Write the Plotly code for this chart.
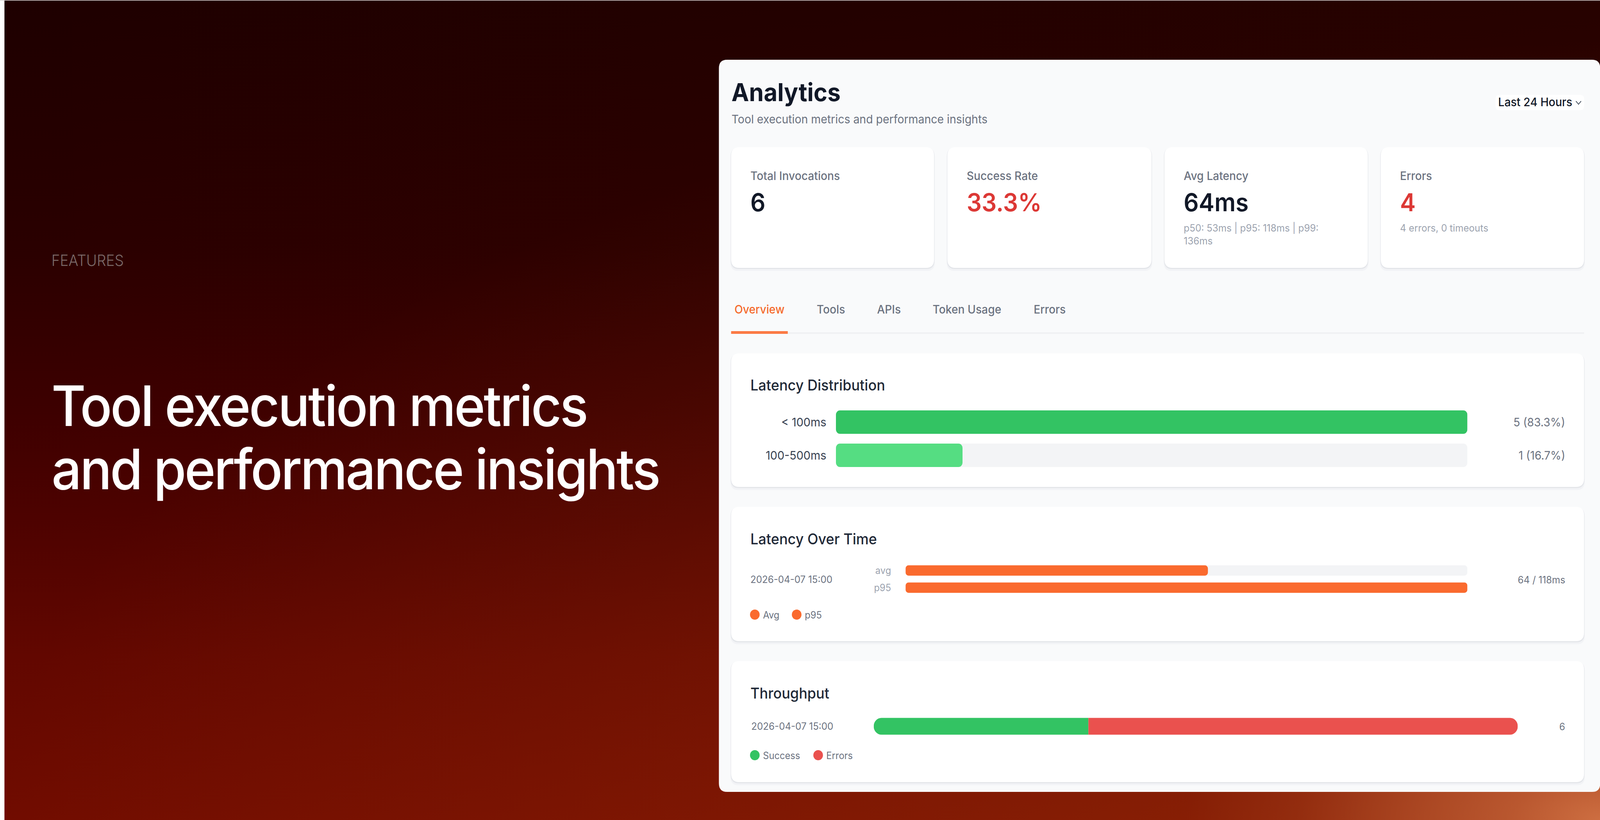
import plotly.graph_objects as go

W, H = 4320, 2100
VIEW_W = 4096  # the browser viewport is capped at this width; the whole figure is fitted to it

# ---------- chart data ----------
kpi_labels = ["Total Invocations", "Success Rate", "Avg Latency", "Errors"]
kpi_values = ["6", "33.3%", "64ms", "4"]
tab_labels = ["Overview", "Tools", "APIs", "Token Usage", "Errors"]
headline = ["Tool execution metrics", "and performance insights"]

dist_categories = ["< 100ms", "100-500ms"]
dist_percent = [83.3, 16.7]
dist_labels = ["5 (83.3%)", "1 (16.7%)"]

latency_categories = ["avg", "p95"]
latency_values = [63.5, 118]
latency_time = "2026-04-07 15:00"

throughput_categories = ["2026-04-07 15:00"]
throughput_success = [2]
throughput_errors = [4]

# ---------- palette ----------
INK = "#111827"; GREY = "#6b7280"; PALE = "#9ca3af"; RED_TXT = "#dc3835"
GREEN = "#33c363"; LIGHT_GREEN = "#55dd82"; ORANGE = "#fa6a2e"; RED = "#ea514e"; TRACK = "#f3f4f6"
FONT = "Inter"
HEAD_SPACING = -4.6

fig = go.Figure()
shapes, notes = [], []


def rrect(x0, y0, x1, y1, r):
    return (f"M{x0+r},{y0} L{x1-r},{y0} Q{x1},{y0} {x1},{y0+r} L{x1},{y1-r} Q{x1},{y1} {x1-r},{y1} "
            f"L{x0+r},{y1} Q{x0},{y1} {x0},{y1-r} L{x0},{y0+r} Q{x0},{y0} {x0+r},{y0} Z")


def box(x0, y0, x1, y1, r, fill):
    shapes.append(dict(type="path", path=rrect(x0, y0, x1, y1, r), fillcolor=fill, line_width=0,
                       xref="x2", yref="y2", layer="below"))


def card(x0, y0, x1, y1, r=22):
    box(x0 - 2, y0 + 2, x1 + 2, y1 + 8, r, "#f2f3f6")
    box(x0 - 1, y0 + 1, x1 + 1, y1 + 3, r, "#e4e6ea")
    box(x0, y0, x1, y1, r, "#ffffff")


def text(x, base, s, size, color, weight=400, anchor="left", family=FONT):
    notes.append(dict(x=x, y=base - 0.364 * size, text=s, xref="x2", yref="y2", showarrow=False,
                      xanchor=anchor, yanchor="middle", borderpad=0, borderwidth=0,
                      font=dict(family=family, size=size, color=color, weight=weight)))


# ---------- background gradient (native fill gradients) ----------
bg = dict(mode="none", fill="toself", hoverinfo="skip", showlegend=False, xaxis="x", yaxis="y")
fig.add_trace(go.Scatter(x=[0, W, W, 0, 0], y=[0, 0, H, H, 0], **bg,
    fillgradient=dict(type="vertical", start=0, stop=H, colorscale=[
        [0, "#1e0000"], [0.3, "#2a0000"], [0.5, "#3d0000"], [0.63, "#4d0200"],
        [0.8, "#620700"], [1, "#710c00"]])))
fig.add_trace(go.Scatter(x=[0, W, W, 0, 0], y=[0, 0, H, H, 0], **bg,
    fillgradient=dict(type="horizontal", start=0, stop=W, colorscale=[
        [0, "rgba(200,40,0,0)"], [1, "rgba(200,40,0,0.05)"]])))
fig.add_trace(go.Scatter(x=[0, 2 * W, 2 * W, 0, 0], y=[H - 2000, H - 2000, H + 2000, H + 2000, H - 2000], **bg,
    fillgradient=dict(type="radial", colorscale=[[0, "rgba(200,90,20,0.3)"], [1, "rgba(200,90,20,0)"]])))
R = 1120
fig.add_trace(go.Scatter(x=[W - R, W + R, W + R, W - R, W - R],
                         y=[H - 560, H - 560, H + 560, H + 560, H - 560], **bg,
    fillgradient=dict(type="radial", colorscale=[
        [0, "rgba(205,110,65,1)"], [0.21, "rgba(205,110,65,0.7)"], [0.46, "rgba(205,110,65,0.46)"],
        [0.73, "rgba(205,110,65,0.16)"], [1, "rgba(205,110,65,0)"]])))

# ---------- page frame ----------
shapes.append(dict(type="rect", x0=0, x1=12, y0=0, y1=H, fillcolor="#ffffff", line_width=0, xref="x2", yref="y2", layer="below"))
shapes.append(dict(type="rect", x0=0, x1=W, y0=0, y1=1.5, fillcolor="#d8d4d4", line_width=0, xref="x2", yref="y2", layer="below"))

# ---------- left side ----------
text(139, 681, "FEATURES", 39, "#7b6a69", 300)
for line, b in zip(headline, [1091, 1253]):
    # tighter tracking pulls the text towards the centre of its box, so start further left
    text(139 + len(line) * HEAD_SPACING / 2, b, line, 143, "#ffffff", 500)

# ---------- panel ----------
box(1941, 153, W + 0.5, 2028, 22, "#f9fafb")
text(1975, 259, "Analytics", 63.6, INK, 700)
text(1975, 316, "Tool execution metrics and performance insights", 30, GREY)
box(4038, 243, 4277, 282, 10, "#ffffff")
text(4045, 272, "Last 24 Hours", 30, INK, 500)
shapes.append(dict(type="path", path="M4255,259 L4262,267 L4269,259", line=dict(color="#4b5563", width=2), xref="x2", yref="y2", layer="below"))

kpi_x = [1974, 2558, 3144, 3728]
kpi_r = [2522, 3109, 3693, 4277]
kpi_col = [INK, RED_TXT, INK, RED_TXT]
for x0, x1, lab, val, col in zip(kpi_x, kpi_r, kpi_labels, kpi_values, kpi_col):
    card(x0, 377, x1, 686)
    text(x0 + 52, 461, lab, 29.8, GREY, 500)
    text(x0 + 52, 541, val, 63.6, col, 600)
text(3196, 593, "p50: 53ms | p95: 118ms | p99:", 25.6, PALE)
text(3196, 626, "136ms", 25.6, PALE)
text(3780, 593, "4 errors, 0 timeouts", 25.6, PALE)

for x, lab, col in zip([1983, 2205, 2368, 2518, 2791], tab_labels, ["#f56a2c", GREY, GREY, GREY, GREY]):
    text(x, 803, lab, 29.8, col, 500)
shapes.append(dict(type="rect", x0=1974, x1=4277, y0=851, y1=855, fillcolor="#f0f1f3", line_width=0, xref="x2", yref="y2", layer="below"))
shapes.append(dict(type="rect", x0=1974, x1=2127, y0=848, y1=855, fillcolor="#fb7a45", line_width=0, xref="x2", yref="y2", layer="below"))

# cards holding the charts
card(1974, 905, 4277, 1247)
card(1974, 1298, 4277, 1642)
card(1974, 1693, 4277, 2003)
text(2026, 1000, "Latency Distribution", 38, "#1f2937", 500)
text(2026, 1394, "Latency Over Time", 38, "#1f2937", 500)
text(2026, 1789, "Throughput", 38, "#1f2937", 500)


# ---------- helpers for real bars ----------
def axes(n, x0, x1, y0, y1, xrange, cats, tick_size, tick_color, standoff):
    fig.layout[f"xaxis{n}"] = dict(domain=[x0 / W, x1 / W], range=xrange, visible=False, anchor=f"y{n}", fixedrange=True)
    fig.layout[f"yaxis{n}"] = dict(domain=[1 - y1 / H, 1 - y0 / H], type="category", categoryorder="array", categoryarray=cats,
                                   range=[len(cats) - 0.5, -0.5], anchor=f"x{n}", showgrid=False, zeroline=False, showline=False,
                                   ticks="", ticklabelstandoff=standoff, fixedrange=True,
                                   tickfont=dict(family=FONT, size=tick_size, color=tick_color))


def pill(n, cat, value, color, thick, radius):
    # an explicit base makes Plotly round both ends of the bar
    fig.add_trace(go.Bar(y=[cat], x=[value], base=[0], orientation="h", width=thick, xaxis=f"x{n}", yaxis=f"y{n}",
                         marker=dict(color=color, cornerradius=radius, line_width=0), hoverinfo="skip", showlegend=False))


def tip_bar(n, cat, value, color, thick, radius):
    # no base: only the far end of the bar is rounded
    fig.add_trace(go.Bar(y=[cat], x=[value], orientation="h", width=thick, xaxis=f"x{n}", yaxis=f"y{n}",
                         marker=dict(color=color, cornerradius=radius, line_width=0), hoverinfo="skip", showlegend=False))


# Latency distribution
dist_max = max(dist_percent)
axes(3, 2257, 3962, 1038.5, 1208.5, [0, dist_max], dist_categories, 30.3, "#374151", 25)
for cat, v, col in zip(dist_categories, dist_percent, [GREEN, LIGHT_GREEN]):
    pill(3, cat, dist_max, TRACK, 0.706, 11)
    pill(3, cat, v, col, 0.706, 11)
for lab, b in zip(dist_labels, [1092, 1177]):
    text(4226, b, lab, 29.8, GREY, anchor="right")

# Latency over time
lat_max = max(latency_values)
axes(4, 2445, 3962, 1439, 1527, [0, lat_max], latency_categories, 25, PALE, 38)
for cat, v in zip(latency_categories, latency_values):
    pill(4, cat, lat_max, TRACK, 0.6, 8)
    pill(4, cat, v, ORANGE, 0.6, 8)
text(2026, 1493, latency_time, 25.5, GREY)
text(4226, 1494, f"{round(latency_values[0])} / {latency_values[1]}ms", 25.5, GREY, anchor="right")

# Throughput: the axis is centred on the success/error boundary, so both bars keep a flat inner end
axes(5, 2359, 4098, 1820, 1900, [-throughput_success[0], throughput_errors[0]], throughput_categories, 25.5, GREY, 108)
tip_bar(5, throughput_categories[0], -throughput_success[0], GREEN, 43 / 80, 21.5)
tip_bar(5, throughput_categories[0], throughput_errors[0], RED, 43 / 80, 21.5)
text(4226, 1870, str(throughput_success[0] + throughput_errors[0]), 25.5, GREY, anchor="right")

# legend dots
legend_x = [2038, 2151, 2038, 2209]
legend_y = [1574, 1574, 1934, 1934]
legend_c = [ORANGE, ORANGE, GREEN, RED]
legend_t = ["Avg", "p95", "Success", "Errors"]
fig.add_trace(go.Scatter(x=legend_x, y=legend_y, mode="markers", xaxis="x2", yaxis="y2", hoverinfo="skip", showlegend=False,
                         marker=dict(size=26, color=legend_c, line_width=0)))
for x, y, t in zip(legend_x, legend_y, legend_t):
    text(x + 22, y + 10, t, 25, GREY)

fig.update_layout(
    width=W, height=H, margin=dict(l=0, r=0, t=0, b=0, pad=0), autosize=False,
    paper_bgcolor="#ffffff", plot_bgcolor="rgba(0,0,0,0)", barmode="overlay", showlegend=False,
    xaxis=dict(domain=[0, 1], range=[0, W], visible=False, anchor="y", fixedrange=True),
    yaxis=dict(domain=[0, 1], range=[H, 0], visible=False, anchor="x", fixedrange=True),
    xaxis2=dict(domain=[0, 1], range=[0, W], visible=False, anchor="y2", fixedrange=True),
    yaxis2=dict(domain=[0, 1], range=[H, 0], visible=False, anchor="x2", fixedrange=True),
    shapes=shapes, annotations=notes, font=dict(family=FONT),
)

post = f"""
document.documentElement.style.overflow='hidden';
document.body.style.margin='0';
document.body.style.overflow='hidden';
var gd=document.getElementById('{{plot_id}}');
gd.style.transformOrigin='0 0';
gd.style.transform='scaleX('+({VIEW_W}/{W})+')';
var head={headline!r};
document.querySelectorAll('.annotation-text').forEach(function(t){{
  if(head.indexOf(t.textContent)>=0){{ t.style.letterSpacing='{HEAD_SPACING}px'; }}
}});
"""
fig.write_html("out.html", config=dict(displayModeBar=False), post_script=post)
